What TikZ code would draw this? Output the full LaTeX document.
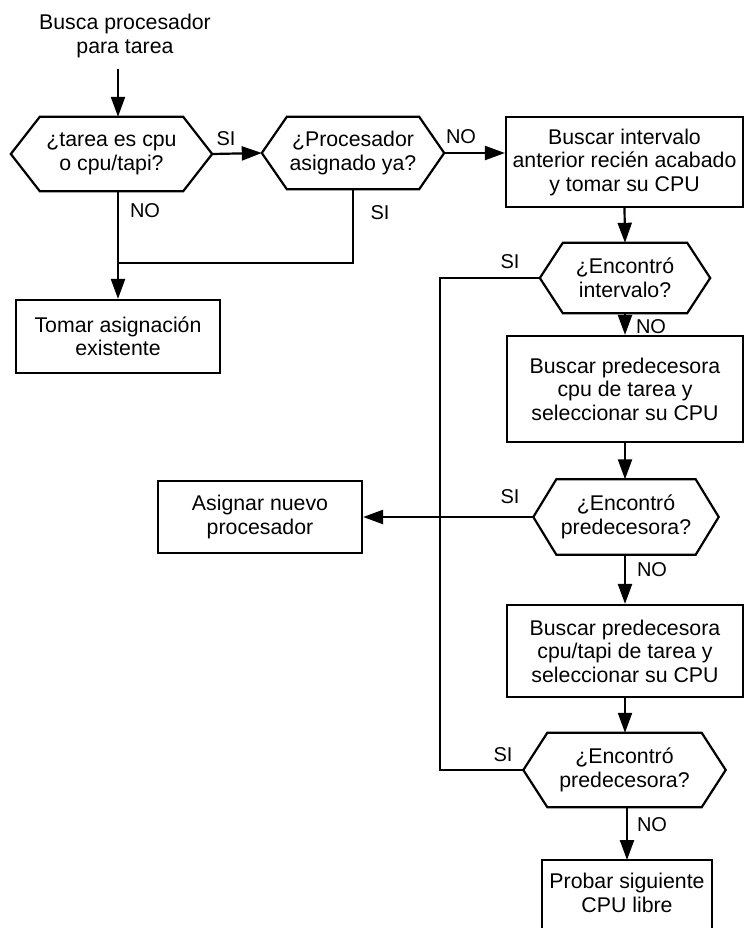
\documentclass[tikz,border=0pt]{standalone}
\usepackage{fontspec}
\setmainfont{Liberation Sans}
\usetikzlibrary{arrows.meta}

% outline of a decision hexagon around a named node; #2 = horizontal bevel
\newcommand\hexoutline[2]{%
  \draw[line] ([xshift=#2pt]#1.north west) -- ([xshift=-#2pt]#1.north east)
    -- (#1.east) -- ([xshift=-#2pt]#1.south east)
    -- ([xshift=#2pt]#1.south west) -- (#1.west) -- cycle;}

\begin{document}
\begin{tikzpicture}[x=1pt, y=-1pt,
  every node/.style={font=\fontsize{21.3}{23.5}\selectfont, align=center},
  line/.style={line width=2.2pt, line join=miter},
  arr/.style={line, -{Triangle[length=20pt, width=14pt]}},
  plain/.style={inner sep=0pt},
  procbox/.style={draw, line, rectangle, inner sep=0pt},
  decision/.style={rectangle, inner sep=0pt},
  lbl/.style={inner sep=0pt, font=\fontsize{20}{22}\selectfont}]

\useasboundingbox (0,0) rectangle (745,928);

% ---------- nodes ----------
\node[plain, inner ysep=11pt] (start) at (125,36) {Busca procesador\\para tarea};

\node[decision, minimum width=201pt, minimum height=74pt] (q1) at (111.5,154)
  {¿tarea es cpu\\o cpu/tapi?};
\hexoutline{q1}{29}

\node[decision, minimum width=182pt, minimum height=72pt] (q2) at (353,153)
  {¿Procesador\\asignado ya?};
\hexoutline{q2}{25}

\node[procbox, minimum width=237pt, minimum height=90pt] (b1) at (624.5,162)
  {Buscar intervalo\\anterior recién acabado\\y tomar su CPU};

\node[procbox, minimum width=204pt, minimum height=73pt] (tom) at (118,336.5)
  {Tomar asignación\\existente};

\node[decision, minimum width=170pt, minimum height=70pt] (q3) at (625,278)
  {¿Encontró\\intervalo?};
\hexoutline{q3}{23}

\node[procbox, minimum width=236pt, minimum height=106pt] (b2) at (625,389)
  {Buscar predecesora\\cpu de tarea y\\seleccionar su CPU};

\node[decision, minimum width=185pt, minimum height=75pt] (q4) at (626,517)
  {¿Encontró\\predecesora?};
\hexoutline{q4}{23}

\node[procbox, minimum width=204pt, minimum height=72pt] (asig) at (260,517)
  {Asignar nuevo\\procesador};

\node[procbox, minimum width=236pt, minimum height=92pt] (b3) at (625,651)
  {Buscar predecesora\\cpu/tapi de tarea y\\seleccionar su CPU};

\node[decision, minimum width=202pt, minimum height=74pt] (q5) at (624.5,770)
  {¿Encontró\\predecesora?};
\hexoutline{q5}{24}

\node[plain, minimum width=169pt, inner ysep=13pt, anchor=north] (b4) at (627,860)
  {Probar siguiente\\CPU libre};
\draw[line] (b4.north west) ++(0,90) -- (b4.north west) -- (b4.north east) -- ++(0,90);

\coordinate (join) at (118,263);
\coordinate (loop) at (440,0);

% ---------- connectors ----------
\draw[arr] (start.south -| tom.north) -- (q1.north -| tom.north);
\draw[arr] (q1.east) -- (q2.west);
\draw[arr] (q2.east) -- (q2.east -| b1.west);
\draw[arr] (q1.south -| tom.north) -- (tom.north);
\draw[line] (q2.south) |- (join);
\draw[arr] (b1.south) -- (q3.north);
\draw[arr] (q3.south) -- (b2.north);
\draw[arr] (b2.south) -- (b2.south |- q4.north);
\draw[arr] (q4.west) -- (asig.east);
\draw[arr] (q4.south -| b3.north) -- (b3.north);
\draw[arr] (b3.south) -- (b3.south |- q5.north);
\draw[arr] (q5.south -| b4.north) -- (b4.north);
\draw[line] (q3.west) -| (loop |- q5.west) -- (q5.west);

% ---------- branch labels ----------
\node[lbl] at (226,139) {SI};
\node[lbl] at (461,137) {NO};
\node[lbl] at (145,211) {NO};
\node[lbl] at (380,213) {SI};
\node[lbl] at (510,262) {SI};
\node[lbl] at (651,327) {NO};
\node[lbl] at (510,497) {SI};
\node[lbl] at (652,570) {NO};
\node[lbl] at (503,755) {SI};
\node[lbl] at (652,825) {NO};
\end{tikzpicture}
\end{document}
